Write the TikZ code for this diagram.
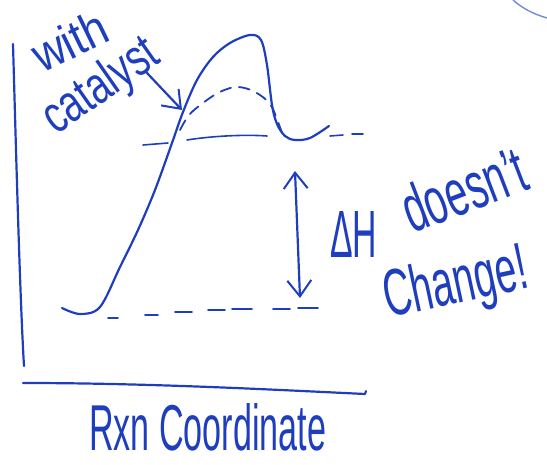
\documentclass[tikz,border=0pt]{standalone}
\usepackage{graphicx}
\usepackage{fontspec}
\setmainfont{Liberation Sans}
\usetikzlibrary{arrows.meta}
\definecolor{pen}{RGB}{30,62,190}
\definecolor{penlight}{RGB}{110,140,215}
\tikzset{
  ink/.style={draw=pen, line width=2.2pt, line cap=round, line join=round},
  inkdash/.style={ink, dash pattern=on 11pt off 8pt},
  barb/.style={-{Straight Barb[length=16pt,width=24pt,line width=2pt]}},
  dbarb/.style={{Straight Barb[length=16pt,width=24pt,line width=2pt]}-{Straight Barb[length=16pt,width=24pt,line width=2pt]}},
  note/.style={text=pen, inner sep=0pt, anchor=base west}
}
\begin{document}
\begin{tikzpicture}[x=1pt,y=-1pt]
\useasboundingbox (0,0) rectangle (547,465);

% axes
\coordinate (ytop) at (13,44);
\coordinate (ybot) at (24,366);
\coordinate (xl) at (23,383);
\coordinate (xr) at (365,394);
\draw[ink] (ytop) .. controls (16,150) and (20,300) .. (ybot);
\draw[ink] (xl) .. controls (150,383) and (280,390) .. (xr) -- ++(1,-3);

% uncatalysed energy profile
\draw[ink] plot[smooth, tension=0.55] coordinates {
  (62,308) (80,314) (100,307) (120,267) (138,230) (155,190) (172,143)
  (183,112) (197,80) (213,57) (230,43) (250,35) (261,40) (267,65)
  (272,105) (277,124) (285,136) (295,140) (310,138) (329,126)};

% catalysed profile
\draw[inkdash, line width=1.8pt] plot[smooth, tension=0.6] coordinates {
  (180,130) (190,114) (207,100) (222,91) (238,87) (255,92) (270,104) (278,122) (282,133)};

% product level
\draw[ink, line width=1.6pt] (143,145) -- (168,143);
\draw[ink, line width=1.6pt] (187,140) .. controls (205,137) and (240,134) .. (267,136);
\draw[ink, line width=1.6pt] (330,136) -- (343,135);
\draw[ink, line width=1.6pt] (352,134) -- (363,134);

% reactant level
\foreach \a/\b/\y in {108/118/318, 145/158/315, 175/192/312, 208/225/310,
                      232/252/309, 273/290/309, 298/318/308}
  \draw[ink, line width=1.8pt] (\a,\y) -- (\b,\y);

% pointer to the catalysed curve
\coordinate (ptail) at (147,73);
\coordinate (phead) at (182,110);
\draw[ink, barb] (ptail) -- (phead);

% enthalpy change
\coordinate (dhtop) at (295,171);
\coordinate (dhbot) at (300,298);
\draw[ink, dbarb] (dhtop) -- (dhbot);

% stray stroke in the corner
\draw[draw=penlight, line width=1.4pt, line cap=round] (513,0) .. controls (522,8) and (533,14) .. (547,18);

% labels
\node[note, rotate=26] (with) at (42,74) {\resizebox{78pt}{36pt}{with}};
\node[note, rotate=35] (cat) at (56,136) {\resizebox{130pt}{38pt}{catalyst}};
\node[note] (dh) at (330,258) {\resizebox{47pt}{46pt}{ΔH}};
\node[note, rotate=21] (does) at (412,234) {\resizebox{128pt}{48pt}{doesn't}};
\node[note, rotate=12] (chg) at (388,318) {\resizebox{146pt}{48pt}{Change!}};
\node[note] (rxn) at (89,451) {\resizebox{237pt}{47pt}{Rxn Coordinate}};
\end{tikzpicture}
\end{document}
